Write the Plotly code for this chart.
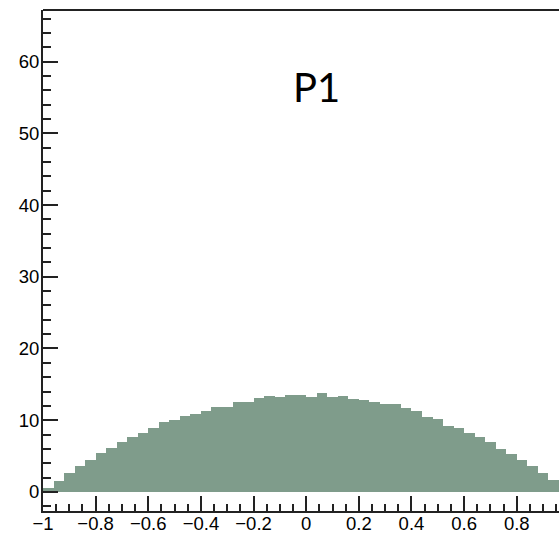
import numpy as np
import plotly.graph_objects as go

# Histogram of P1: 50 bins on [-1, 1]
bin_lo = -1.0
bin_hi = 1.0
n_bins = 50
counts = [0.53, 1.56, 2.58, 3.56, 4.49, 5.37, 6.11, 6.90, 7.70, 8.26,
          8.86, 9.74, 9.97, 10.6, 10.9, 11.3, 11.8, 11.8, 12.58, 12.58,
          13.1, 13.4, 13.27, 13.5, 13.55, 13.27, 13.78, 13.27, 13.4, 13.0,
          12.86, 12.48, 12.3, 12.2, 11.65, 11.3, 10.4, 10.1, 9.23, 8.86,
          8.16, 7.6, 6.9, 6.02, 5.27, 4.44, 3.56, 2.63, 1.6, 0.55]
x_tick_vals = [-1, -0.8, -0.6, -0.4, -0.2, 0, 0.2, 0.4, 0.6, 0.8]
x_tick_text = ["\u22121", "\u22120.8", "\u22120.6", "\u22120.4", "\u22120.2",
               "0", "0.2", "0.4", "0.6", "0.8"]
y_tick_vals = [0, 10, 20, 30, 40, 50, 60]
y_tick_text = ["0", "10", "20", "30", "40", "50", "60"]
title_text = "P1"

edges = np.linspace(bin_lo, bin_hi, n_bins + 1)
centers = 0.5 * (edges[:-1] + edges[1:])
width = edges[1] - edges[0]

fig = go.Figure()
fig.add_trace(go.Bar(x=centers, y=counts, width=width,
                     marker=dict(color="#7f9c8b", line=dict(width=0)),
                     hoverinfo="skip"))

tick_font = dict(family="Liberation Sans, Arial, sans-serif", size=18.5, color="black")
fig.update_layout(
    width=559, height=534, autosize=False,
    margin=dict(l=43, r=0, t=10, b=23, pad=0),
    plot_bgcolor="white", paper_bgcolor="white",
    showlegend=False, bargap=0,
    xaxis=dict(range=[-1, 0.9605], showgrid=False, zeroline=False,
               automargin=False, ticklabelstandoff=-5,
               showline=True, linecolor="#222", linewidth=2,
               tickvals=x_tick_vals, ticktext=x_tick_text,
               ticks="inside", ticklen=15, tickwidth=1.5, tickcolor="#222",
               minor=dict(dtick=0.05, tick0=0, ticks="inside", ticklen=7,
                          tickwidth=1.5, tickcolor="#222"),
               tickfont=tick_font),
    yaxis=dict(range=[-2.66, 67.2], showgrid=False, zeroline=False,
               automargin=False, ticklabelstandoff=-2,
               showline=True, linecolor="#222", linewidth=2,
               tickvals=y_tick_vals, ticktext=y_tick_text,
               ticks="inside", ticklen=15, tickwidth=1.5, tickcolor="#222",
               minor=dict(dtick=2, tick0=0, ticks="inside", ticklen=8,
                          tickwidth=1.5, tickcolor="#222"),
               tickfont=tick_font),
    shapes=[dict(type="line", xref="paper", yref="paper", x0=0, x1=1, y0=1, y1=1,
                 line=dict(color="#222", width=2))],
    annotations=[dict(text=title_text, xref="paper", yref="paper",
                      x=0.531, y=0.846, xanchor="center", yanchor="middle",
                      showarrow=False,
                      font=dict(family="Lato, sans-serif", size=40, color="black"))],
)

fig.write_html("out.html")
